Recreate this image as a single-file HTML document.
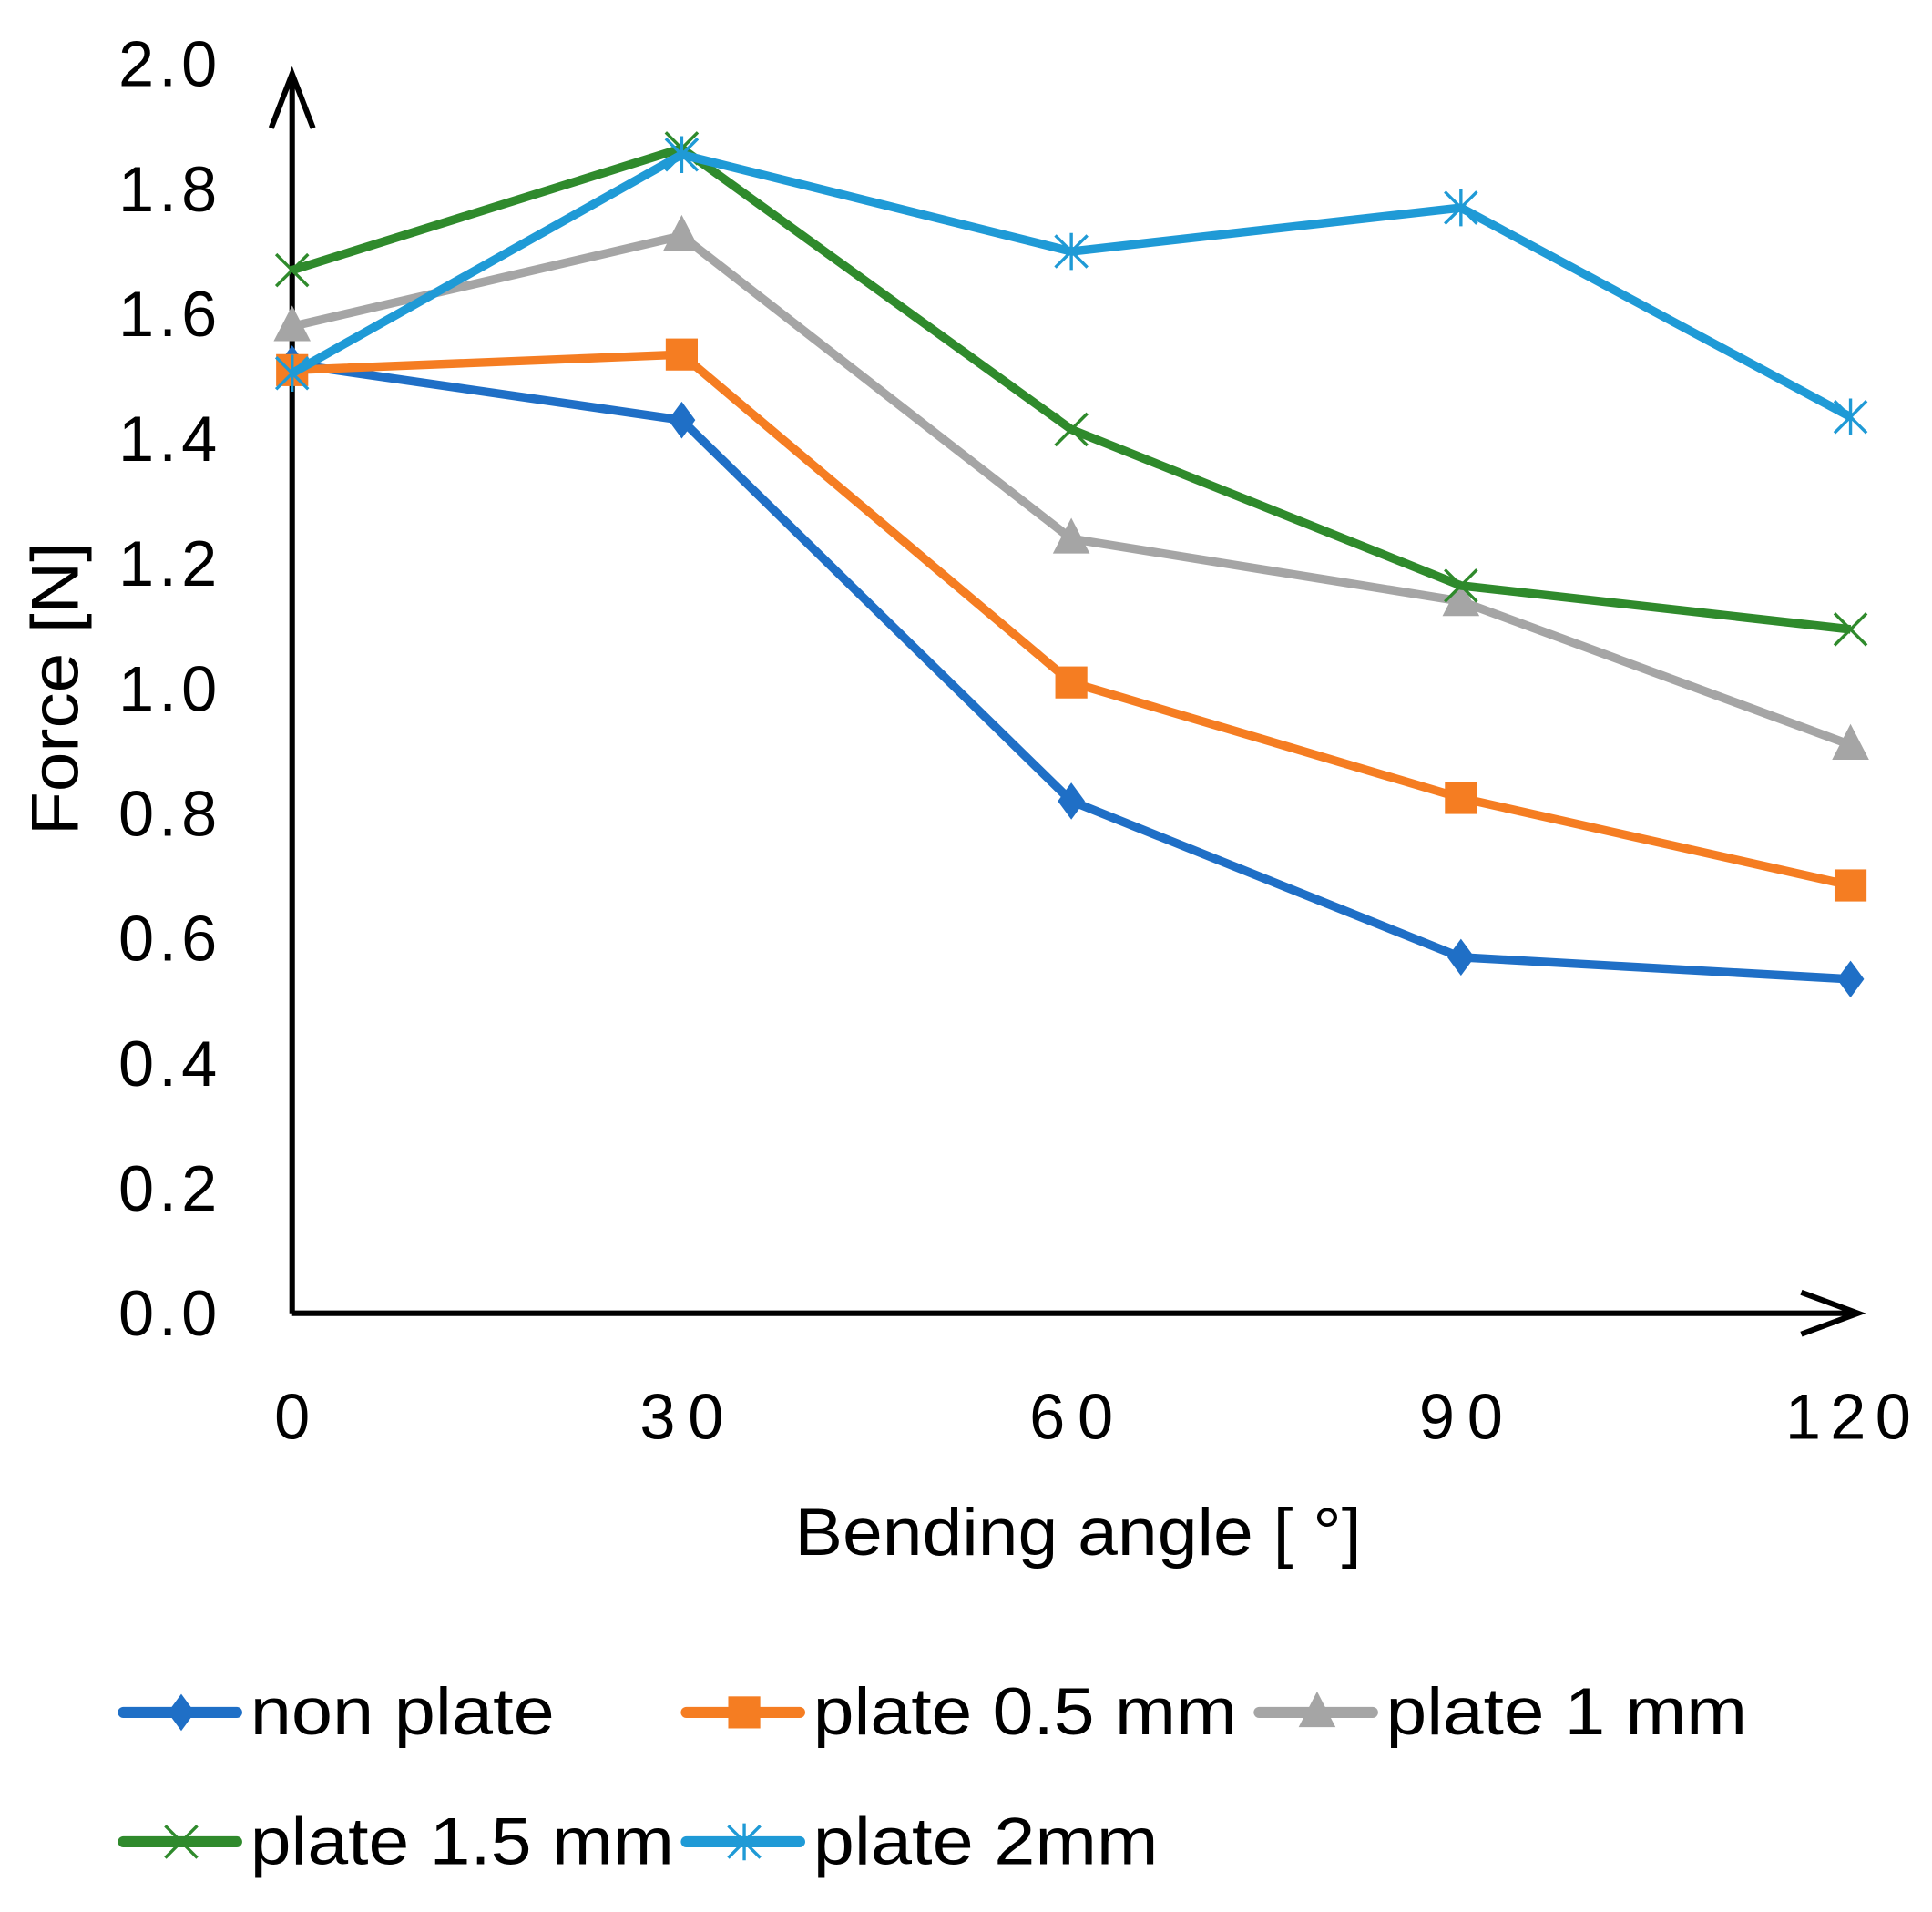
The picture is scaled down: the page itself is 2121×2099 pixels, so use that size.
<!DOCTYPE html>
<html><head><meta charset="utf-8"><style>html,body{margin:0;padding:0;background:#fff}svg{display:block}text{font-family:"Liberation Sans",sans-serif;fill:#000}</style></head>
<body>
<svg id="chart" width="2121" height="2099" viewBox="0 0 1568 1552" xmlns="http://www.w3.org/2000/svg">
<g id="axes"></g>
<g id="series"></g>
<g id="legend"></g>
</svg>
<script>
const categories = [0, 30, 60, 90, 120];
const yTicks = ["0.0","0.2","0.4","0.6","0.8","1.0","1.2","1.4","1.6","1.8","2.0"];
const nonPlate = [1.52, 1.43, 0.82, 0.57, 0.535];
const plate05 = [1.51, 1.535, 1.01, 0.825, 0.685];
const plate1 = [1.58, 1.725, 1.24, 1.14, 0.91];
const plate15 = [1.67, 1.865, 1.415, 1.165, 1.095];
const plate2 = [1.505, 1.855, 1.70, 1.77, 1.435];
const seriesNames = ["non plate","plate 0.5 mm","plate 1 mm","plate 1.5 mm","plate 2mm"];

const NS="http://www.w3.org/2000/svg";
const X0=237,X1=1502,Y0=1066,Y2=52;
const xs=v=>X0+(v-0)/(120-0)*(X1-X0);
const ys=v=>Y0-(v/2.0)*(Y0-Y2);
function mk(tag,attrs,parent){const e=document.createElementNS(NS,tag);for(const k in attrs)e.setAttribute(k,attrs[k]);parent.appendChild(e);return e;}
const axes=document.getElementById('axes'),ser=document.getElementById('series'),leg=document.getElementById('legend');

let e=mk('path',{d:`M${X0},${Y0} L${X0},60 M220,104 L${X0},60 L254,104`,stroke:'#000','stroke-width':4.5,fill:'none'},axes);


e=mk('path',{d:`M${X0},${Y0} L1508,${Y0} M1462,1049 L1508,${Y0} L1462,1083`,stroke:'#000','stroke-width':4.5,fill:'none'},axes);


yTicks.forEach(t=>{const el=mk('text',{x:176,y:ys(parseFloat(t))+18,'text-anchor':'end','font-size':52,textLength:80,lengthAdjust:'spacing'},axes);el.textContent=t;

});
categories.forEach(c=>{const s=String(c);const el=mk('text',{x:xs(c)+(c===120?-2:0),y:1168,'text-anchor':'middle','font-size':52,textLength:s.length*34,lengthAdjust:'spacing'},axes);el.textContent=s;

});
e=mk('text',{x:875,y:1262,'text-anchor':'middle','font-size':54,textLength:460,lengthAdjust:'spacingAndGlyphs'},axes);e.textContent='Bending angle [ °]';


e=mk('text',{x:0,y:0,'text-anchor':'middle','font-size':54,textLength:238,lengthAdjust:'spacingAndGlyphs',transform:'translate(63,559) rotate(-90)'},axes);e.textContent='Force [N]';



function marker(type,x,y,color,p){
  if(type==='diamond')return mk('path',{d:`M${x},${y-15} L${x+11},${y} L${x},${y+15} L${x-11},${y} Z`,fill:color},p);
  if(type==='square')return mk('rect',{x:x-13,y:y-13,width:26,height:26,fill:color},p);
  if(type==='triangle')return mk('path',{d:`M${x},${y-17} L${x+15},${y+12} L${x-15},${y+12} Z`,fill:color},p);
  if(type==='x')return mk('path',{d:`M${x-13},${y-13} L${x+13},${y+13} M${x+13},${y-13} L${x-13},${y+13}`,stroke:color,'stroke-width':2.5},p);
  return mk('path',{d:`M${x-13},${y-13} L${x+13},${y+13} M${x+13},${y-13} L${x-13},${y+13} M${x},${y-15} L${x},${y+15}`,stroke:color,'stroke-width':2.5},p);
}
const defs=[[nonPlate,'#1f6fc6','diamond'],[plate05,'#f57d22','square'],[plate1,'#a5a5a5','triangle'],[plate15,'#2f8a2c','x'],[plate2,'#1f9ad6','star']];
defs.forEach((d,i)=>{
  const g=mk('g',{},ser);
  
  
  const pts=d[0].map((v,j)=>xs(categories[j])+','+ys(v)).join(' ');
  const pl=mk('polyline',{points:pts,fill:'none',stroke:d[1],'stroke-width':7,'stroke-linejoin':'round'},g);
  
  
  d[0].forEach((v,j)=>{const m=marker(d[2],xs(categories[j]),ys(v),d[1],g);
    
    });
});
const legPos=[[100,1390,247],[557,1390,344],[1022,1390,293],[100,1495,344],[557,1495,280]];
defs.forEach((d,i)=>{
  const [lx,ly,tw]=legPos[i];
  const g=mk('g',{},leg);
  
  
  mk('line',{x1:lx,y1:ly,x2:lx+92,y2:ly,stroke:d[1],'stroke-width':9,'stroke-linecap':'round'},g);
  marker(d[2],lx+47,ly,d[1],g);
  const t=mk('text',{x:lx+103,y:ly+18,'font-size':54,textLength:tw,lengthAdjust:'spacingAndGlyphs'},g);
  t.textContent=seriesNames[i];
});
</script>
</body></html>
